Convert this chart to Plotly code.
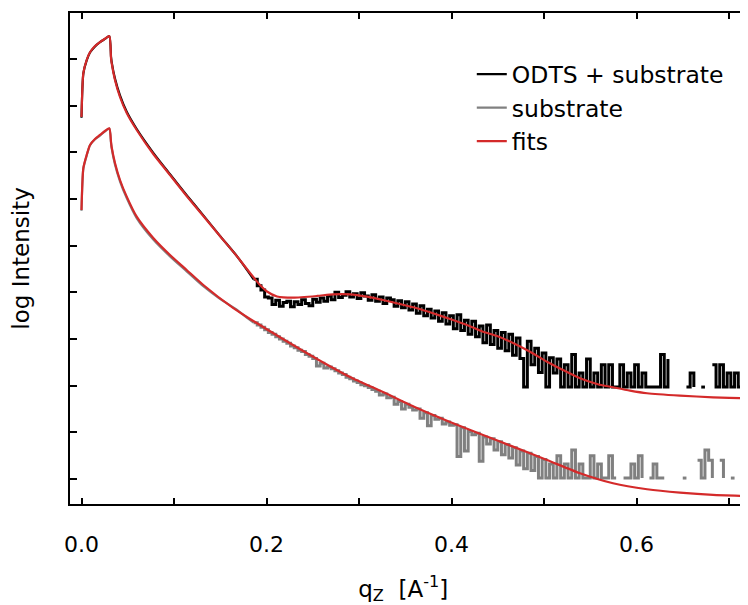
import plotly.graph_objects as go

# ---------------- data (log10 intensity, arbitrary offset) ----------------
# fits (red)
fit_q_odts = [0.000, 0.002, 0.0056, 0.0092, 0.0146, 0.020, 0.0254, 0.0301, 0.0319, 0.0326,
              0.0362, 0.0416, 0.0489, 0.0597, 0.0776, 0.0957, 0.1137, 0.1317, 0.1497, 0.1678,
              0.1822, 0.1930, 0.2005, 0.2114, 0.2286, 0.2546, 0.2719, 0.2903, 0.3086, 0.3259,
              0.3443, 0.3627, 0.3800, 0.3984, 0.4168, 0.4341, 0.4492, 0.4665, 0.4849, 0.5032,
              0.5205, 0.5389, 0.5573, 0.5746, 0.5930, 0.6114, 0.6470, 0.6827, 0.7195, 0.7240]
fit_v_odts = [-1.243, -0.300, -0.021, 0.144, 0.279, 0.364, 0.435, 0.493, 0.021, -0.086,
              -0.450, -0.814, -1.157, -1.521, -2.036, -2.486, -2.935, -3.364, -3.793, -4.221,
              -4.585, -4.843, -4.982, -5.089, -5.115, -5.078, -5.042, -5.042, -5.093, -5.164,
              -5.250, -5.342, -5.449, -5.571, -5.700, -5.843, -5.935, -6.085, -6.272, -6.486,
              -6.664, -6.842, -6.964, -7.034, -7.107, -7.163, -7.214, -7.249, -7.270, -7.272]

fit_q_sub = [0.000, 0.002, 0.0056, 0.0092, 0.0146, 0.020, 0.0254, 0.0301, 0.0319, 0.0326,
             0.0362, 0.0416, 0.0489, 0.0597, 0.0776, 0.0957, 0.1137, 0.1317, 0.1638, 0.1822,
             0.2178, 0.2546, 0.2903, 0.3259, 0.3627, 0.3984, 0.4341, 0.4665, 0.5032, 0.5389,
             0.5746, 0.6114, 0.6470, 0.6827, 0.7195, 0.7240]
fit_v_sub = [-3.235, -2.336, -2.057, -1.843, -1.714, -1.628, -1.543, -1.485, -1.778, -1.886,
             -2.228, -2.593, -2.950, -3.379, -3.835, -4.200, -4.521, -4.843, -5.335, -5.571,
             -6.000, -6.428, -6.814, -7.135, -7.478, -7.778, -8.057, -8.307, -8.592, -8.877,
             -9.092, -9.220, -9.293, -9.342, -9.364, -9.366]

# measured data, low-q (smooth) part
low_q = [0.000, 0.002, 0.0056, 0.0092, 0.0146, 0.020, 0.0254, 0.0301, 0.0319, 0.0326,
         0.0362, 0.0416, 0.0489, 0.0597, 0.0776, 0.0957, 0.1137, 0.1317, 0.1497, 0.1678,
         0.1760, 0.1860]
low_v_odts = [-1.26, -0.31, -0.03, 0.14, 0.27, 0.36, 0.43, 0.49, 0.05, -0.06,
              -0.42, -0.78, -1.13, -1.50, -2.01, -2.47, -2.92, -3.35, -3.79, -4.22,
              -4.44, -4.72]
low_v_sub = [-3.25, -2.35, -2.07, -1.85, -1.72, -1.64, -1.55, -1.49, -1.80, -1.91,
             -2.26, -2.62, -2.98, -3.41, -3.87, -4.23, -4.55, -4.87, -5.14, -5.37,
             -5.50, -5.65]

# measured data, high-q (noisy) part on the scan grid q = 0.186, 0.190, ... (step 0.004)
q_start, q_step = 0.186, 0.004
hi_v_odts = [
    -4.72, -4.86, -4.95, -5.10, -5.12, -5.26, -5.17, -5.30, -5.22, -5.19,
    -5.31, -5.20, -5.26, -5.16, -5.24, -5.29, -5.15, -5.21, -5.12, -5.19,
    -5.08, -5.16, -5.00, -5.11, -5.06, -4.99, -5.10, -5.03, -5.13, -5.01,
    -5.08, -5.17, -5.05, -5.19, -5.10, -5.24, -5.12, -5.16, -5.30, -5.18,
    -5.33, -5.20, -5.38, -5.25, -5.45, -5.29, -5.50, -5.36, -5.55, -5.40,
    -5.62, -5.44, -5.68, -5.50, -5.78, -5.48, -5.82, -5.60, -5.90, -5.62,
    -5.95, -5.72, -6.08, -5.70, -6.12, -5.82, -6.20, -5.86, -6.25, -5.90,
    -6.35, -5.98, -6.42, -7.03, -6.05, -6.55, -6.20, -6.72, -6.30, -7.03,
    -6.40, -6.73, -6.43, -7.03, -6.55, -7.03, -6.33, -7.03, -6.73, -7.03,
    -6.43, -7.03, -6.73, -7.03, -6.55, -7.03, -6.55, -7.03, -7.03, -6.55,
    -7.03, -6.73, -7.03, -6.55, -7.03, -6.73, -7.03, -7.03, -7.03, -7.03,
    -6.33, -7.03, -6.43, None, None, None, None, -7.03, -6.73, -7.03,
    None, -7.03, -7.03, None, -6.55, -7.03, -6.55, -7.03, -6.73, -7.03,
    -6.73, -7.03, -6.73, -7.03, -6.55]
hi_v_sub = [
    -5.65, -5.70, -5.75, -5.80, -5.86, -5.90, -5.95, -6.00, -6.05, -6.09,
    -6.15, -6.19, -6.24, -6.27, -6.33, -6.37, -6.42, -6.58, -6.52, -6.62,
    -6.60, -6.64, -6.68, -6.73, -6.76, -6.82, -6.85, -6.90, -6.93, -6.98,
    -7.00, -7.04, -7.08, -7.12, -7.20, -7.18, -7.26, -7.25, -7.40, -7.34,
    -7.50, -7.40, -7.46, -7.52, -7.50, -7.70, -7.58, -7.86, -7.64, -7.72,
    -7.70, -7.82, -7.78, -7.85, -7.84, -8.52, -7.90, -8.40, -7.98, -8.05,
    -8.02, -8.62, -8.10, -8.25, -8.14, -8.38, -8.20, -8.48, -8.26, -8.55,
    -8.33, -8.70, -8.40, -8.78, -8.45, -8.82, -8.52, -8.98, -8.58, -8.98,
    -8.68, -8.98, -8.50, -8.98, -8.68, -8.98, -8.38, -8.98, -8.68, -8.98,
    -8.98, -8.50, -8.98, -8.68, -8.98, -8.98, -8.50, -8.98, -8.98, None,
    -8.98, -8.98, -8.68, -8.98, -8.50, -8.98, None, -8.98, -8.68, -8.98,
    -8.98, -8.98, None, None, None, None, -8.98, -8.98, None, None,
    -8.60, -8.98, -8.38, -8.60, -8.98, None, -8.60, -8.98, None, -8.98,
    -8.98, None, -8.98, -8.98, -8.98]
hi_q = [round(q_start + q_step * i, 4) for i in range(len(hi_v_odts))]

# axis ticks
x_tickvals = [0.0, 0.1, 0.2, 0.3, 0.4, 0.5, 0.6, 0.7]
x_ticktext = ["0.0", "", "0.2", "", "0.4", "", "0.6", ""]
y_tickvals = [-9, -8, -7, -6, -5, -4, -3, -2, -1, 0]
x_range = [-0.01243, 0.72378]
y_range = [-9.536, 0.986]

BLACK = "#000000"
GREY = "#808080"
RED = "#d42a2a"
FONT = "DejaVu Sans, Liberation Sans, Arial, sans-serif"

fig = go.Figure()
# ODTS + substrate data
fig.add_trace(go.Scatter(x=low_q, y=low_v_odts, mode="lines", name="ODTS + substrate",
                         legendgroup="odts", line=dict(color=BLACK, width=2.2, shape="spline", smoothing=0.6)))
fig.add_trace(go.Scatter(x=hi_q, y=hi_v_odts, mode="lines", name="ODTS + substrate",
                         legendgroup="odts", showlegend=False, connectgaps=False,
                         line=dict(color=BLACK, width=3, shape="hv")))
# substrate data
fig.add_trace(go.Scatter(x=low_q, y=low_v_sub, mode="lines", name="substrate",
                         legendgroup="sub", line=dict(color=GREY, width=2.2, shape="spline", smoothing=0.6)))
fig.add_trace(go.Scatter(x=hi_q, y=hi_v_sub, mode="lines", name="substrate",
                         legendgroup="sub", showlegend=False, connectgaps=False,
                         line=dict(color=GREY, width=3, shape="hv")))
# fits
fig.add_trace(go.Scatter(x=fit_q_odts, y=fit_v_odts, mode="lines", name="fits",
                         legendgroup="fits", line=dict(color=RED, width=2.2, shape="spline", smoothing=0.6)))
fig.add_trace(go.Scatter(x=fit_q_sub, y=fit_v_sub, mode="lines", name="fits",
                         legendgroup="fits", showlegend=False,
                         line=dict(color=RED, width=2.2, shape="spline", smoothing=0.6)))

# page body has an 8 px margin, so the margins below are offset by 8 px
fig.update_layout(
    width=748, height=605,
    margin=dict(l=62, r=5, t=5, b=109, autoexpand=False),
    plot_bgcolor="white", paper_bgcolor="white",
    font=dict(family=FONT, size=22, color="black"),
    xaxis=dict(range=x_range, tickvals=x_tickvals, ticktext=x_ticktext, automargin=False,
               ticks="inside", ticklen=6, tickwidth=2, tickcolor="black",
               showline=True, linewidth=2, linecolor="black", mirror="ticks",
               showgrid=False, zeroline=False, ticklabelstandoff=20,
               tickfont=dict(size=22),
               title=dict(text="q<sub>Z</sub> &nbsp;[A<sup>-1</sup>]&nbsp;&nbsp;", font=dict(size=23), standoff=24)),
    yaxis=dict(range=y_range, tickvals=y_tickvals, showticklabels=False, automargin=False,
               ticks="inside", ticklen=7, tickwidth=2, tickcolor="black",
               showline=True, linewidth=2, linecolor="black", mirror="ticks",
               showgrid=False, zeroline=False,
               title=dict(text="log Intensity", font=dict(size=23), standoff=33)),
    legend=dict(x=0.590, y=0.92, xanchor="left", yanchor="top", bgcolor="rgba(0,0,0,0)",
                font=dict(size=23.5), tracegroupgap=0, traceorder="normal"),
)

fig.write_html("out.html")
